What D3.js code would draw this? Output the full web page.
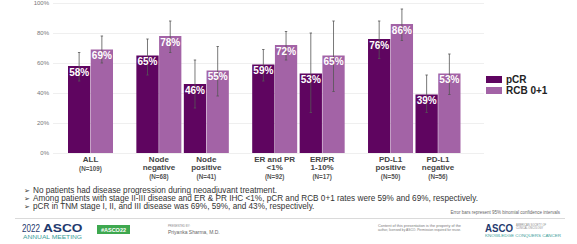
<!DOCTYPE html>
<html>
<head>
<meta charset="utf-8">
<script src="https://cdn.jsdelivr.net/npm/d3@7"></script>
<style>
    html, body { margin: 0; padding: 0; background: #fff; }
    svg { display: block; font-family: 'Liberation Sans', Arial, sans-serif; }
</style>
</head>
<body>
<svg id="chart" width="577" height="244"></svg>
<script>
// chart data
var categories = ['ALL', 'Node\nnegative', 'Node\npositive', 'ER and PR\n<1%', 'ER/PR\n1-10%', 'PD-L1\npositive', 'PD-L1\nnegative'];
var sampleSizes = ['(N=109)', '(N=68)', '(N=41)', '(N=92)', '(N=17)', '(N=50)', '(N=56)'];
var sections = [0, 1, 1, 2, 2, 3, 3];
var seriesNames = ['pCR', 'RCB 0+1'];
var pcrValues = [58, 65, 46, 59, 53, 76, 39];
var rcbValues = [69, 78, 55, 72, 65, 86, 53];
var pcrLow = [48, 52, 30, 48, 27, 63, 27];
var pcrHigh = [67, 76, 62, 69, 80, 88, 52];
var rcbLow = [60, 67, 38, 62, 41, 75, 39];
var rcbHigh = [78, 88, 71, 81, 88, 96, 66];
var yTicks = [0, 20, 40, 60, 80, 100];
var bullets = [
    'No patients had disease progression during neoadjuvant treatment.',
    'Among patients with stage II-III disease and ER & PR IHC <1%, pCR and RCB 0+1 rates were 59% and 69%, respectively.',
    'pCR in TNM stage I, II, and III disease was 69%, 59%, and 43%, respectively.'
];

var colors = { 'pCR': '#5f0560', 'RCB 0+1': '#a363a6' };

var svg = d3.select('#chart');

// groups sit in sections, a wider gap between sections
var sectionGap = 0.44;
var groupPos = categories.map(function (c, i) { return i + sections[i] * sectionGap; });

var x = d3.scaleLinear()
    .domain([0, d3.max(groupPos)])
    .range([90.5, 438]);

var inner = d3.scaleBand()
    .domain(seriesNames)
    .range([-22.5, 22.5])
    .paddingInner(0.02);

var y = d3.scaleLinear()
    .domain([0, 100])
    .range([153, 3]);

// grid + y labels
var yAxis = d3.axisLeft(y)
    .tickValues(yTicks)
    .tickSize(-431)
    .tickPadding(4)
    .tickFormat(function (d) { return d + '%'; });

var yg = svg.append('g')
    .attr('transform', 'translate(53,0)')
    .call(yAxis);
yg.select('.domain').remove();
yg.selectAll('.tick line').attr('stroke', '#ebebeb').attr('stroke-width', 0.8);
yg.selectAll('.tick text')
    .attr('fill', '#777')
    .style('font-size', '6px')
    .style('font-family', "'Liberation Sans', Arial, sans-serif");

var rows = categories.map(function (c, i) {
    return {
        idx: i,
        cx: x(groupPos[i]),
        bars: [
            { name: 'pCR', value: pcrValues[i], low: pcrLow[i], high: pcrHigh[i] },
            { name: 'RCB 0+1', value: rcbValues[i], low: rcbLow[i], high: rcbHigh[i] }
        ]
    };
});

var groups = svg.selectAll('g.group')
    .data(rows)
    .enter().append('g')
    .attr('class', 'group')
    .attr('transform', function (d) { return 'translate(' + d.cx + ',0)'; });

var bar = groups.selectAll('g.bar')
    .data(function (d) { return d.bars; })
    .enter().append('g')
    .attr('class', 'bar');

bar.append('rect')
    .attr('x', function (d) { return inner(d.name); })
    .attr('width', inner.bandwidth())
    .attr('y', function (d) { return y(d.value); })
    .attr('height', function (d) { return y(0) - y(d.value); })
    .attr('fill', function (d) { return colors[d.name]; });

// error bars
bar.append('line')
    .attr('x1', function (d) { return inner(d.name) + inner.bandwidth() / 2; })
    .attr('x2', function (d) { return inner(d.name) + inner.bandwidth() / 2; })
    .attr('y1', function (d) { return y(d.low); })
    .attr('y2', function (d) { return y(d.high); })
    .attr('stroke', '#555')
    .attr('stroke-width', 0.8);

['low', 'high'].forEach(function (k) {
    bar.append('line')
        .attr('x1', function (d) { return inner(d.name) + inner.bandwidth() / 2 - 1.2; })
        .attr('x2', function (d) { return inner(d.name) + inner.bandwidth() / 2 + 1.2; })
        .attr('y1', function (d) { return y(d[k]); })
        .attr('y2', function (d) { return y(d[k]); })
        .attr('stroke', '#555')
        .attr('stroke-width', 0.8);
});

bar.append('text')
    .attr('x', function (d) { return inner(d.name) + inner.bandwidth() / 2; })
    .attr('y', function (d) { return y(d.value) + 9.5; })
    .attr('text-anchor', 'middle')
    .attr('fill', '#fff')
    .style('font-size', '10px')
    .style('font-weight', 'bold')
    .text(function (d) { return d.value + '%'; });

// category labels
groups.each(function (d) {
    var g = d3.select(this),
        lines = categories[d.idx].split('\n'),
        base = 162;
    lines.forEach(function (l, j) {
        g.append('text')
            .attr('y', base + j * 8)
            .attr('text-anchor', 'middle')
            .attr('fill', '#444')
            .style('font-size', '8px')
            .style('font-weight', 'bold')
            .text(l);
    });
    g.append('text')
        .attr('y', base + (lines.length - 1) * 8 + 8.5)
        .attr('text-anchor', 'middle')
        .attr('fill', '#555')
        .style('font-size', '6.3px')
        .style('font-weight', 'bold')
        .text(sampleSizes[d.idx]);
});

// legend
var legend = svg.append('g').attr('transform', 'translate(486,76)');
seriesNames.forEach(function (s, i) {
    legend.append('rect')
        .attr('y', i * 11)
        .attr('width', 16)
        .attr('height', 7)
        .attr('fill', colors[s]);
    legend.append('text')
        .attr('x', 20)
        .attr('y', i * 11 + 7)
        .attr('fill', '#222')
        .style('font-size', '10px')
        .style('font-weight', 'bold')
        .text(s);
});

// bullet notes
bullets.forEach(function (b, i) {
    svg.append('text')
        .attr('x', 24)
        .attr('y', 192.5 + i * 8)
        .attr('fill', '#333')
        .style('font-size', '7px')
        .style('font-family', "'DejaVu Sans', sans-serif")
        .text('\u27A2');
    svg.append('text')
        .attr('x', 33)
        .attr('y', 192.5 + i * 8)
        .attr('fill', '#333')
        .style('font-size', '8.2px')
        .text(b);
});

svg.append('text')
    .attr('x', 560)
    .attr('y', 213.5)
    .attr('text-anchor', 'end')
    .attr('fill', '#666')
    .style('font-size', '4.5px')
    .text('Error bars represent 95% binomial confidence intervals');

// footer
svg.append('line')
    .attr('x1', 15).attr('x2', 565)
    .attr('y1', 218.5).attr('y2', 218.5)
    .attr('stroke', '#d0d0d0')
    .attr('stroke-width', 0.8);

var navy = '#1f3a6e', teal = '#3a9e9a';

function squeezed(xPos, yPos, txt, size, width, fill, bold) {
    return svg.append('text')
        .attr('x', xPos).attr('y', yPos)
        .attr('fill', fill)
        .style('font-size', size + 'px')
        .style('font-weight', bold ? 'bold' : 'normal')
        .attr('textLength', width)
        .attr('lengthAdjust', 'spacingAndGlyphs')
        .text(txt);
}

squeezed(22, 231.5, '2022', 10, 18, navy, false);
squeezed(43, 231.5, 'ASCO', 11.5, 39.5, navy, true);
squeezed(23, 238.5, 'ANNUAL MEETING', 4.6, 59, teal, false);

svg.append('rect')
    .attr('x', 97).attr('y', 225)
    .attr('width', 33).attr('height', 9)
    .attr('fill', '#3ea84f');
svg.append('text')
    .attr('x', 113.5).attr('y', 231.5)
    .attr('text-anchor', 'middle')
    .attr('fill', '#fff')
    .style('font-size', '5.5px')
    .style('font-weight', 'bold')
    .text('#ASCO22');

svg.append('text')
    .attr('x', 168).attr('y', 227)
    .attr('fill', '#888')
    .style('font-size', '2.8px')
    .text('PRESENTED BY:');
svg.append('text')
    .attr('x', 168).attr('y', 233.5)
    .attr('fill', '#666')
    .style('font-size', '5px')
    .text('Priyanka Sharma, M.D.');

squeezed(378, 227, 'Content of this presentation is the property of the', 3.3, 83, '#777', false);
squeezed(378, 231, 'author, licensed by ASCO. Permission required for reuse.', 3.3, 83, '#777', false);

squeezed(485, 232, 'ASCO', 11, 28, navy, true);
svg.append('text')
    .attr('x', 516).attr('y', 225.5)
    .attr('fill', '#888')
    .style('font-size', '2.6px')
    .text('AMERICAN SOCIETY OF');
svg.append('text')
    .attr('x', 516).attr('y', 228.5)
    .attr('fill', '#888')
    .style('font-size', '2.6px')
    .text('CLINICAL ONCOLOGY');
squeezed(485, 237, 'KNOWLEDGE CONQUERS CANCER', 3.5, 76, teal, false);
</script>
</body>
</html>
